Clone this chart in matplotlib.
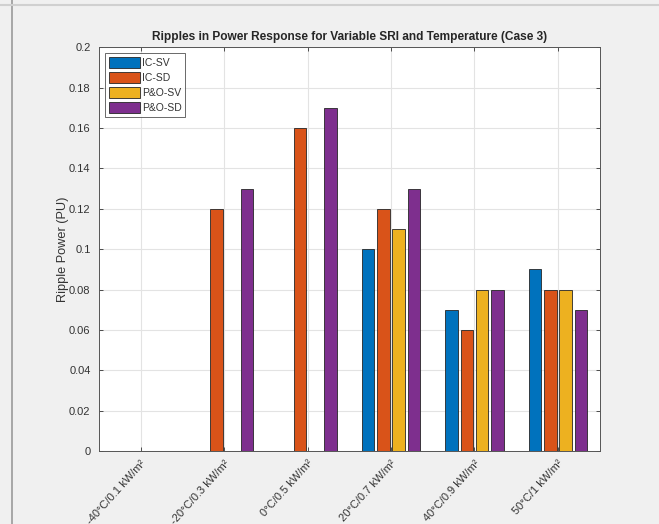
import numpy as np
import matplotlib
matplotlib.use("Agg")
import matplotlib.pyplot as plt
from matplotlib.lines import Line2D

categories = ["-40°C/0.1 kW/m²", "-20°C/0.3 kW/m²", "0°C/0.5 kW/m²",
              "20°C/0.7 kW/m²", "40°C/0.9 kW/m²", "50°C/1 kW/m²"]
series_names = ["IC-SV", "IC-SD", "P&O-SV", "P&O-SD"]
ic_sv = [0, 0, 0, 0.10, 0.07, 0.09]
ic_sd = [0, 0.12, 0.16, 0.12, 0.06, 0.08]
po_sv = [0, 0, 0, 0.11, 0.08, 0.08]
po_sd = [0, 0.13, 0.17, 0.13, 0.08, 0.07]
colors = ["#0072BD", "#D95319", "#EDB120", "#7E2F8E"]

plt.rcParams['font.family'] = ['Liberation Sans', 'DejaVu Sans']

fig = plt.figure(figsize=(6.59, 5.24), dpi=100, facecolor="#f0f0f0")
# screenshot frame bits
fig.add_artist(Line2D([12 / 659, 12 / 659], [0, 1], color="#9a9a9a", lw=1.2))
fig.add_artist(Line2D([0, 1], [1 - 5 / 524, 1 - 5 / 524], color="#d0d0d0", lw=1.5))

ax = fig.add_axes([0.150, 0.139, 0.760, 0.771])
ax.set_facecolor("white")

x = np.arange(1, len(categories) + 1)
step = 0.183
width = 0.15
all_series = [ic_sv, ic_sd, po_sv, po_sd]
for k, vals in enumerate(all_series):
    ax.bar(x + (k - 1.5) * step, vals, width, color=colors[k],
           edgecolor="#262626", linewidth=0.6, label=series_names[k], zorder=3)

ax.set_xlim(0.5, 6.5)
ax.set_ylim(0, 0.2)
ax.set_yticks(np.arange(0, 0.201, 0.02))
ax.set_yticklabels(["0", "0.02", "0.04", "0.06", "0.08", "0.1", "0.12",
                    "0.14", "0.16", "0.18", "0.2"])
ax.set_xticks(x)
# anchor on the top-right corner so labels sit a bit right of the tick, like MATLAB
ax.set_xticklabels(categories, rotation=48, ha="right", va="top",
                   rotation_mode="anchor")

ax.grid(True, color="#e3e3e3", linewidth=0.8, zorder=0)
ax.set_axisbelow(True)
ax.tick_params(direction="in", top=True, right=True, length=3,
               labelsize=8, colors="#333333", width=0.6)
ax.tick_params(axis="y", pad=6)
ax.tick_params(axis="x", pad=5)
for s in ax.spines.values():
    s.set_color("#555555")
    s.set_linewidth(0.7)

ax.set_ylabel("Ripple Power (PU)", fontsize=9.2, color="#333333", labelpad=0)
ax.set_title("Ripples in Power Response for Variable SRI and Temperature (Case 3)",
             fontsize=8.6, fontweight="bold", color="#262626", pad=5)

leg = ax.legend(loc="upper left", fontsize=7.5, frameon=True, fancybox=False,
                edgecolor="#262626", handlelength=3.0, handleheight=1.3,
                handletextpad=0.2, labelspacing=0.35, borderpad=0.35,
                borderaxespad=0.6)
leg.get_frame().set_linewidth(0.6)
for t in leg.get_texts():
    t.set_color("#333333")

fig.savefig("out.png", dpi=100, facecolor=fig.get_facecolor())
